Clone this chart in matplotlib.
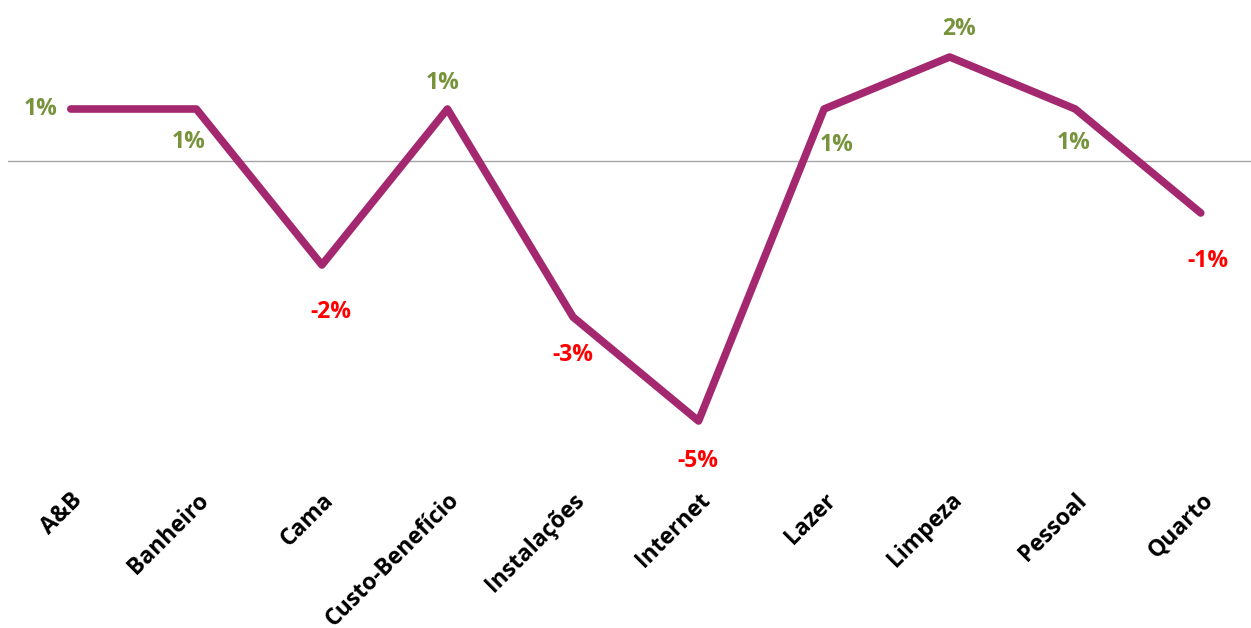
import numpy as np
import matplotlib as mpl
import matplotlib.pyplot as plt

categories = ['A&B', 'Banheiro', 'Cama', 'Custo-Benefício', 'Instalações',
              'Internet', 'Lazer', 'Limpeza', 'Pessoal', 'Quarto']
values = [1, 1, -2, 1, -3, -5, 1, 2, 1, -1]

LINE_COLOR = '#A3286F'
POS_COLOR = '#77933C'
NEG_COLOR = '#FF0000'

# label offsets in pixels (dx, dy) from each point, mimics excel placement
label_offsets = [(-30, 0), (-8, -33), (9, -47), (-5, 26), (0, -38),
                 (-1, -40), (13, -36), (9, 28), (-2, -34), (7, -48)]

plt.rcParams['font.family'] = ['Open Sans', 'DejaVu Sans']

fig = plt.figure(figsize=(12.51, 6.28), dpi=100)
ax = fig.add_axes([8 / 1251, (628 - 480) / 628, 1 - 8 / 1251, 480 / 628])

x = np.arange(len(categories))
ax.plot(x, values, color=LINE_COLOR, lw=5.5, solid_capstyle='round', solid_joinstyle='round', zorder=3)
ax.axhline(0, color='#A6A6A6', lw=1, zorder=1)

ax.set_xlim(-0.5, 9.4)
ax.set_ylim(-(480 - 161) / 52, 161 / 52)

for xi, v, (dx, dy) in zip(x, values, label_offsets):
    ax.annotate(f'{v}%', (xi, v), xytext=(dx * 0.72, dy * 0.72), textcoords='offset points',
                ha='center', va='center', fontsize=16.5, fontweight='bold',
                color=POS_COLOR if v > 0 else NEG_COLOR)

ax.set_xticks(x)
ax.set_xticklabels(categories, rotation=45, ha='right', va='top', rotation_mode='anchor',
                   fontsize=16.5, fontweight='bold', color='black')
for lbl in ax.get_xticklabels():
    lbl.set_transform(lbl.get_transform() + mpl.transforms.ScaledTranslation(6 / 100, 0, fig.dpi_scale_trans))
ax.tick_params(axis='x', length=0, pad=6)
ax.set_yticks([])
for s in ax.spines.values():
    s.set_visible(False)

fig.savefig('out.png', dpi=100)
